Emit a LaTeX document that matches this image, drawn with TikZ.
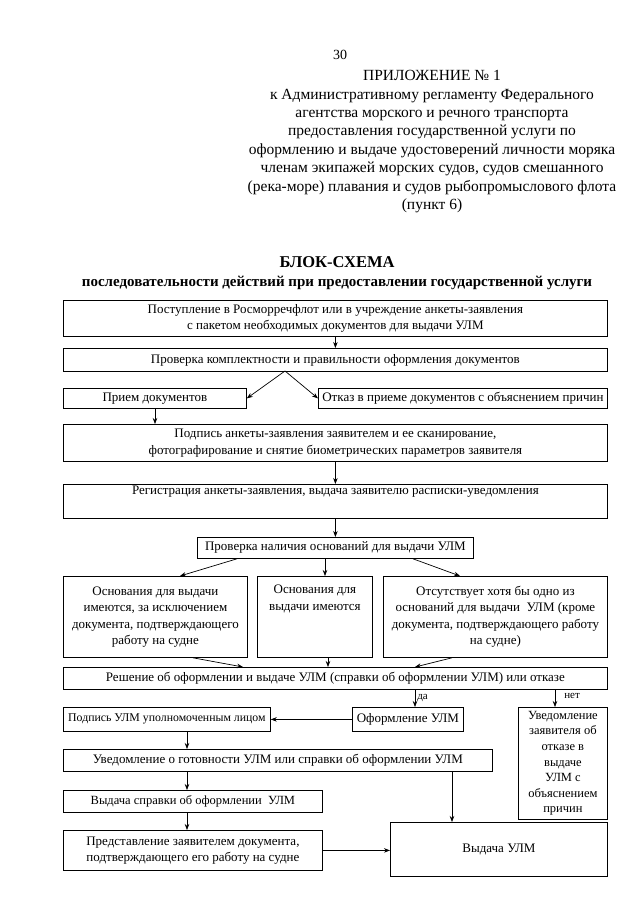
\documentclass[tikz,border=0pt]{standalone}
\usepackage{fontspec}
\setmainfont{Liberation Serif}
\usetikzlibrary{arrows.meta}
\newcommand\fs{\fontsize{13}{16.5}\selectfont}
\newcommand\fss{\fontsize{11.8}{14}\selectfont}
\newcommand\bx[6]{\node[box, anchor=north west, minimum width={#4-#2}, minimum height={#5-#3}] (#1) at (#2,#3) {#6};}
\begin{document}
\begin{tikzpicture}[x=1pt,y=-1pt,
  box/.style={draw, line width=0.8pt, inner sep=0pt, align=center, font=\fs},
  arr/.style={-{Stealth[length=6pt,width=4.5pt]}, line width=0.7pt},
  lbl/.style={font=\fontsize{11}{13}\selectfont, inner sep=1pt}]
\fill[white] (0,0) rectangle (640,905);
\useasboundingbox (0,0) rectangle (640,905);
% header
\node[font=\fontsize{14}{16}\selectfont] (pg) at (340,55) {30};
\node[font=\fontsize{15.5}{18.4}\selectfont, align=center, anchor=north] (hd) at (432,67) {ПРИЛОЖЕНИЕ № 1\\
к Административному регламенту Федерального\\
агентства морского и речного транспорта\\
предоставления государственной услуги по\\
оформлению и выдаче удостоверений личности моряка\\
членам экипажей морских судов, судов смешанного\\
(река-море) плавания и судов рыбопромыслового флота\\
(пункт 6)};
\node[font=\bfseries\fontsize{16.5}{19}\selectfont] (t1) at (337,262) {БЛОК-СХЕМА};
\node[font=\bfseries\fontsize{15}{17}\selectfont] (t2) at (337,283) {последовательности действий при предоставлении государственной услуги};
% boxes
\bx{b1}{63}{300}{607}{336}{Поступление в Росморречфлот или в учреждение анкеты-заявления\\ с пакетом необходимых документов для выдачи УЛМ}
\bx{b2}{63}{348}{607}{371}{Проверка комплектности и правильности оформления документов}
\bx{b3}{63}{388}{246}{408}{Прием документов}
\bx{b4}{318}{388}{607}{408}{Отказ в приеме документов с объяснением причин}
\bx{b5}{63}{424}{607}{461}{Подпись анкеты-заявления заявителем и ее сканирование,\\ фотографирование и снятие биометрических параметров заявителя}
\bx{b6}{63}{484}{607}{518}{Регистрация анкеты-заявления, выдача заявителю расписки-уведомления\\ \strut}
\bx{b7}{197}{537}{473}{558}{Проверка наличия оснований для выдачи УЛМ}
\bx{b8}{63}{576}{247}{657}{Основания для выдачи\\ имеются, за исключением\\ документа, подтверждающего\\ работу на судне}
\bx{b9}{257}{576}{372}{657}{Основания для\\ выдачи имеются\\ \strut\\ \strut}
\bx{b10}{383}{576}{607}{657}{Отсутствует хотя бы одно из\\ оснований для выдачи\ \ УЛМ (кроме\\ документа, подтверждающего работу\\ на судне)}
\bx{b11}{63}{667}{607}{689}{Решение об оформлении и выдаче УЛМ (справки об оформлении УЛМ) или отказе}
\node[box, font=\fss, anchor=north west, minimum width=207pt, minimum height=24pt] (b12) at (63,707) {Подпись УЛМ уполномоченным лицом};
\bx{b13}{352}{707}{463}{731}{Оформление УЛМ}
\node[box, font=\fontsize{12.5}{15.6}\selectfont, anchor=north west, minimum width=89pt, minimum height=112pt] (b14) at (518,707) {Уведомление\\ заявителя об\\ отказе в\\ выдаче\\ УЛМ с\\ объяснением\\ причин};
\bx{b15}{63}{749}{492}{771}{Уведомление о готовности УЛМ или справки об оформлении УЛМ}
\bx{b16}{63}{790}{322}{812}{\fontsize{12.5}{15}\selectfont Выдача справки об оформлении\ \ УЛМ}
\bx{b17}{63}{830}{322}{870}{Представление заявителем документа,\\ подтверждающего его работу на судне}
\bx{b18}{390}{822}{607}{876}{Выдача УЛМ}
% connectors
\coordinate (ap) at (285,371);
\draw[arr] (b1.south) -- (b2.north);
\draw[arr] (ap) -- (b3.east);
\draw[arr] (ap) -- (b4.west);
\draw[arr] ([xshift=92pt]b3.south west) -- ([xshift=92pt]b5.north west);
\draw[arr] (b5.south) -- (b6.north);
\draw[arr] (b6.south) -- (b7.north -| b6.south);
\draw[arr] ([xshift=40pt]b7.south west) -- ([xshift=117pt]b8.north west);
\draw[arr] ([xshift=128pt]b7.south west) -- ([xshift=68pt]b9.north west);
\draw[arr] ([xshift=216pt]b7.south west) -- ([xshift=77pt]b10.north west);
\draw[arr] ([xshift=130pt]b8.south west) -- ([xshift=180pt]b11.north west);
\draw[arr] ([xshift=71pt]b9.south west) -- ([xshift=265pt]b11.north west);
\draw[arr] ([xshift=69pt]b10.south west) -- ([xshift=352pt]b11.north west);
\draw[arr] ([xshift=352pt]b11.south west) -- node[lbl, right=1pt, pos=0.45] {да} ([xshift=63pt]b13.north west);
\draw[arr] ([xshift=492pt]b11.south west) -- node[lbl, right=8pt, pos=0.35] {нет} ([xshift=37pt]b14.north west);
\draw[arr] (b13.west) -- (b12.east);
\draw[arr] ([xshift=124pt]b12.south west) -- ([xshift=124pt]b15.north west);
\draw[arr] ([xshift=124pt]b15.south west) -- ([xshift=124pt]b16.north west);
\draw[arr] ([xshift=389pt]b15.south west) -- ([xshift=62pt]b18.north west);
\draw[arr] ([xshift=124pt]b16.south west) -- ([xshift=124pt]b17.north west);
\draw[arr] (b17.east) -- (b17.east -| b18.west);
\end{tikzpicture}
\end{document}
